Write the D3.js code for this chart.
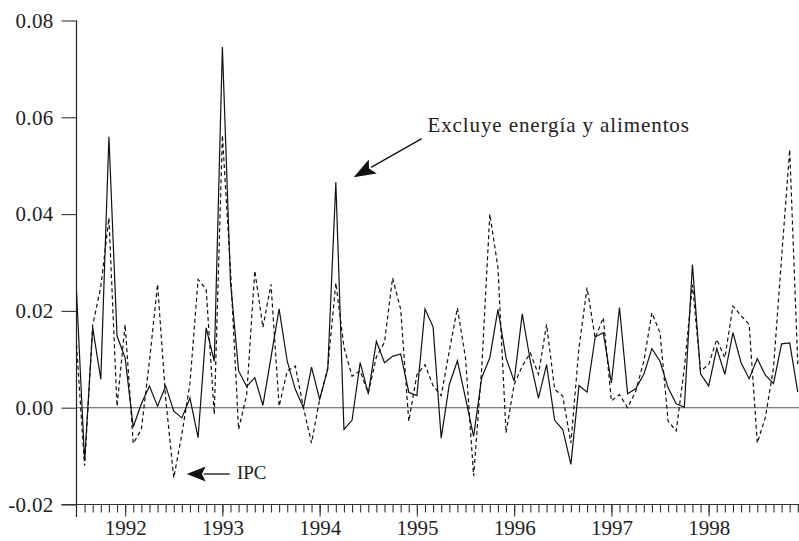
<!DOCTYPE html>
<html><head><meta charset="utf-8">
<script src="https://cdn.jsdelivr.net/npm/d3@7"></script>
<style>html,body{margin:0;padding:0;background:#fff}svg{display:block}</style>
</head><body>
<svg id="chart" width="799" height="541"></svg>
<script>
// Monthly categories: 1991-07 .. 1998-12
const months = d3.timeMonth.range(new Date(1991, 6, 1), new Date(1999, 0, 1)).map(d3.timeFormat("%Y-%m"));

// Excluye energía y alimentos (solid)
const excluye = [
 0.024, -0.011, 0.0165, 0.0059, 0.056, 0.0148,
 0.0103, -0.004, 0.0008, 0.0045, 0.0003, 0.0045, -0.0007, -0.0021, 0.002, -0.0062, 0.0165, 0.0096,
 0.0745, 0.026, 0.0076, 0.0044, 0.0062, 0.0005, 0.0104, 0.0204, 0.0096, 0.0038, 0.0, 0.0084,
 0.0017, 0.0079, 0.0466, -0.0045, -0.0026, 0.0093, 0.0029, 0.0137, 0.0093, 0.0106, 0.0111, 0.0032,
 0.0025, 0.0204, 0.0167, -0.0063, 0.0048, 0.0097, 0.002, -0.0059, 0.0062, 0.0103, 0.0203, 0.0103,
 0.0055, 0.0194, 0.0096, 0.002, 0.0089, -0.0026, -0.0045, -0.0117, 0.0046, 0.0032, 0.0146, 0.0155,
 0.0051, 0.0207, 0.0029, 0.0039, 0.0069, 0.0122, 0.0096, 0.0041, 0.0008, 0.0001, 0.0296, 0.007,
 0.0045, 0.0122, 0.0069, 0.0155, 0.0093, 0.006, 0.0101, 0.0067, 0.005, 0.0132, 0.0134, 0.0032
];

// IPC (dashed)
const ipc = [
 0.013, -0.012, 0.017, 0.025, 0.0392, 0.0003,
 0.0172, -0.0074, -0.0045, 0.0096, 0.0255, 0.002, -0.0145, -0.0055, 0.005, 0.0265, 0.0245, -0.0014,
 0.0563, 0.0285, -0.0045, 0.0027, 0.0283, 0.0166, 0.0255, 0.0003, 0.0076, 0.0086, 0.0, -0.0073,
 0.0017, 0.0082, 0.0258, 0.0125, 0.0065, 0.0076, 0.003, 0.0105, 0.0135, 0.0268, 0.0203, -0.0028,
 0.0068, 0.0089, 0.0045, 0.0025, 0.0117, 0.0206, 0.0103, -0.0141, 0.0082, 0.040, 0.029, -0.0052,
 0.0048, 0.0086, 0.0113, 0.0069, 0.0172, 0.0038, 0.0024, -0.0073, 0.0124, 0.0248, 0.0144, 0.0186,
 0.0014, 0.0027, 0.0, 0.0034, 0.0096, 0.0196, 0.0155, -0.0028, -0.0048, 0.0082, 0.0254, 0.0076,
 0.0089, 0.0141, 0.0103, 0.021, 0.019, 0.0172, -0.0073, -0.002, 0.0082, 0.031, 0.0533, 0.009
];

const yTickValues = [-0.02, 0.00, 0.02, 0.04, 0.06, 0.08];
const yearLabels = ["1992", "1993", "1994", "1995", "1996", "1997", "1998"];
const labelCore = "Excluye energía y alimentos";
const labelIPC = "IPC";

const FONT = "'Liberation Serif', 'DejaVu Serif', serif";
const svg = d3.select("#chart");

const x = d3.scalePoint().domain(months).range([76.5, 797.8]);
const xi = d3.scaleLinear().domain([0, months.length - 1]).range(x.range());
const y = d3.scaleLinear().domain([-0.02, 0.08]).range([504.5, 20.5]);

// zero line
svg.append("line")
  .attr("x1", x.range()[0]).attr("x2", 799)
  .attr("y1", y(0)).attr("y2", y(0))
  .attr("stroke", "#555").attr("stroke-width", 1.1);

// Y axis
const yAxis = svg.append("g").attr("transform", `translate(${x.range()[0]},0)`)
  .call(d3.axisLeft(y).tickValues(yTickValues).tickSize(15).tickPadding(8)
    .tickFormat(d => d.toFixed(2)));
yAxis.select(".domain").remove();
yAxis.selectAll("line").attr("stroke", "#333").attr("stroke-width", 1.1);
yAxis.selectAll("text").attr("font-family", FONT).attr("font-size", 21)
  .attr("letter-spacing", 0.3).attr("fill", "#222");
svg.append("line")
  .attr("x1", x.range()[0]).attr("x2", x.range()[0])
  .attr("y1", y(0.08)).attr("y2", y(-0.02) + 12.5)
  .attr("stroke", "#222").attr("stroke-width", 1.2);

// X axis: minor monthly ticks
const xBase = y(-0.02);
const xMinor = svg.append("g").attr("transform", `translate(0,${xBase})`)
  .call(d3.axisBottom(x).tickValues(months.slice(1)).tickSize(8).tickFormat(""));
xMinor.select(".domain").remove();
xMinor.selectAll("line").attr("stroke", "#333").attr("stroke-width", 1.1);

// X axis: major yearly ticks with labels (January of each year)
const janMonths = yearLabels.map(yr => yr + "-01");
const xMajor = svg.append("g").attr("transform", `translate(0,${xBase})`)
  .call(d3.axisBottom(x).tickValues(janMonths).tickSize(12).tickPadding(4)
    .tickFormat(d => d.slice(0, 4)));
xMajor.select(".domain").remove();
xMajor.selectAll("line").attr("stroke", "#333").attr("stroke-width", 1.1);
xMajor.selectAll("text").attr("font-family", FONT).attr("font-size", 21).attr("fill", "#222");

svg.append("line")
  .attr("x1", 61.5).attr("x2", 799)
  .attr("y1", xBase).attr("y2", xBase)
  .attr("stroke", "#333").attr("stroke-width", 1.2);

// series
const line = d3.line().x((d, i) => x(months[i])).y(d => y(d));
svg.append("path").datum(ipc).attr("d", line)
  .attr("fill", "none").attr("stroke", "#111").attr("stroke-width", 1.2)
  .attr("stroke-dasharray", "4,3");
svg.append("path").datum(excluye).attr("d", line)
  .attr("fill", "none").attr("stroke", "#111").attr("stroke-width", 1.2)
  .attr("stroke-linejoin", "miter");

// annotations (anchored in data coordinates)
function arrow(tail, tip, headLen, headHalf) {
  const x0 = xi(tail[0]), y0 = y(tail[1]), x1 = xi(tip[0]), y1 = y(tip[1]);
  const dx = x1 - x0, dy = y1 - y0, L = Math.hypot(dx, dy), ux = dx / L, uy = dy / L;
  const bx = x1 - ux * headLen, by = y1 - uy * headLen;
  svg.append("line").attr("x1", x0).attr("y1", y0).attr("x2", bx + ux * 2).attr("y2", by + uy * 2)
    .attr("stroke", "#111").attr("stroke-width", 1.3);
  const nx = -uy, ny = ux;
  const notchX = x1 - ux * headLen * 0.8, notchY = y1 - uy * headLen * 0.8;
  svg.append("path")
    .attr("d", `M${x1},${y1}L${bx + nx * headHalf},${by + ny * headHalf}L${notchX},${notchY}L${bx - nx * headHalf},${by - ny * headHalf}Z`)
    .attr("fill", "#111");
}
arrow([42.6, 0.0556], [34.2, 0.0476], 22, 8);
svg.append("text").attr("x", xi(43.3)).attr("y", y(0.0570))
  .attr("font-family", FONT).attr("font-size", 21).attr("letter-spacing", 0.9)
  .attr("fill", "#222").text(labelCore);

arrow([18.9, -0.0137], [13.6, -0.0137], 19, 7.5);
svg.append("text").attr("x", xi(19.8)).attr("y", y(-0.0147))
  .attr("font-family", FONT).attr("font-size", 19).attr("fill", "#222").text(labelIPC);
</script>
</body></html>
